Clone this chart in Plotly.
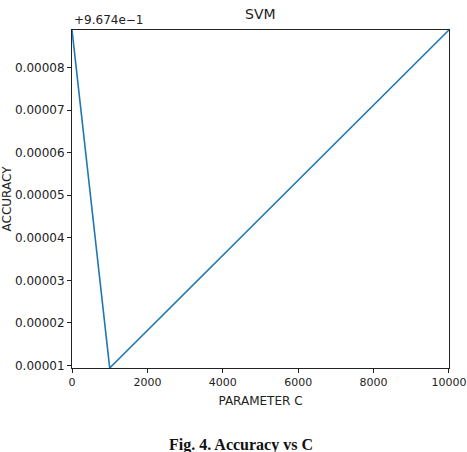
import plotly.graph_objects as go

# Data (values relative to offset 0.9674)
param_c = [0, 1000, 10000]
accuracy_offset = [0.0000888, 0.0000094, 0.0000888]

y_ticks = [0.00001, 0.00002, 0.00003, 0.00004, 0.00005, 0.00006, 0.00007, 0.00008]
y_tick_labels = ["0.00001", "0.00002", "0.00003", "0.00004", "0.00005", "0.00006", "0.00007", "0.00008"]
x_ticks = [0, 2000, 4000, 6000, 8000, 10000]
x_tick_labels = ["0", "2000", "4000", "6000", "8000", "10000"]

FONT = "DejaVu Sans, sans-serif"

fig = go.Figure()
fig.add_trace(go.Scatter(x=param_c, y=accuracy_offset, mode="lines",
                         line=dict(color="#1f77b4", width=1.6), showlegend=False))

fig.update_layout(
    width=467, height=452,
    margin=dict(l=72, r=18, t=30, b=84),
    plot_bgcolor="white", paper_bgcolor="white",
    font=dict(family=FONT, size=12, color="#222"),
    xaxis=dict(range=[0, 10000.5], tickvals=x_ticks, ticktext=x_tick_labels, automargin=False,
               ticklabeloverflow="allow", tickfont=dict(size=11),
               showgrid=False, zeroline=False, showline=True, linecolor="#222", linewidth=1,
               mirror=True, ticks="outside", ticklen=4, tickcolor="#222",
               title=dict(text="PARAMETER C", font=dict(size=12), standoff=8)),
    yaxis=dict(range=[min(accuracy_offset), max(accuracy_offset)], tickvals=y_ticks, ticktext=y_tick_labels,
               automargin=False,
               showgrid=False, zeroline=False, showline=True, linecolor="#222", linewidth=1,
               mirror=True, ticks="outside", ticklen=4, tickcolor="#222",
               title=dict(text="ACCURACY", font=dict(size=12), standoff=2)),
    annotations=[
        dict(text="+9.674e\u22121", xref="paper", yref="paper", x=0, y=1, xanchor="left", yanchor="bottom",
             yshift=1, showarrow=False, font=dict(size=12)),
        dict(text="SVM", xref="paper", yref="paper", x=0.5, y=1, xanchor="center", yanchor="bottom",
             yshift=6, showarrow=False, font=dict(size=14)),
        dict(text="<b>Fig. 4. Accuracy vs C</b>", xref="paper", yref="paper", x=0.447, y=0,
             xanchor="center", yanchor="top", yshift=-66, showarrow=False,
             font=dict(family="Liberation Serif, Times New Roman, serif", size=16, color="#111")),
    ],
)

fig.write_html("out.html")
